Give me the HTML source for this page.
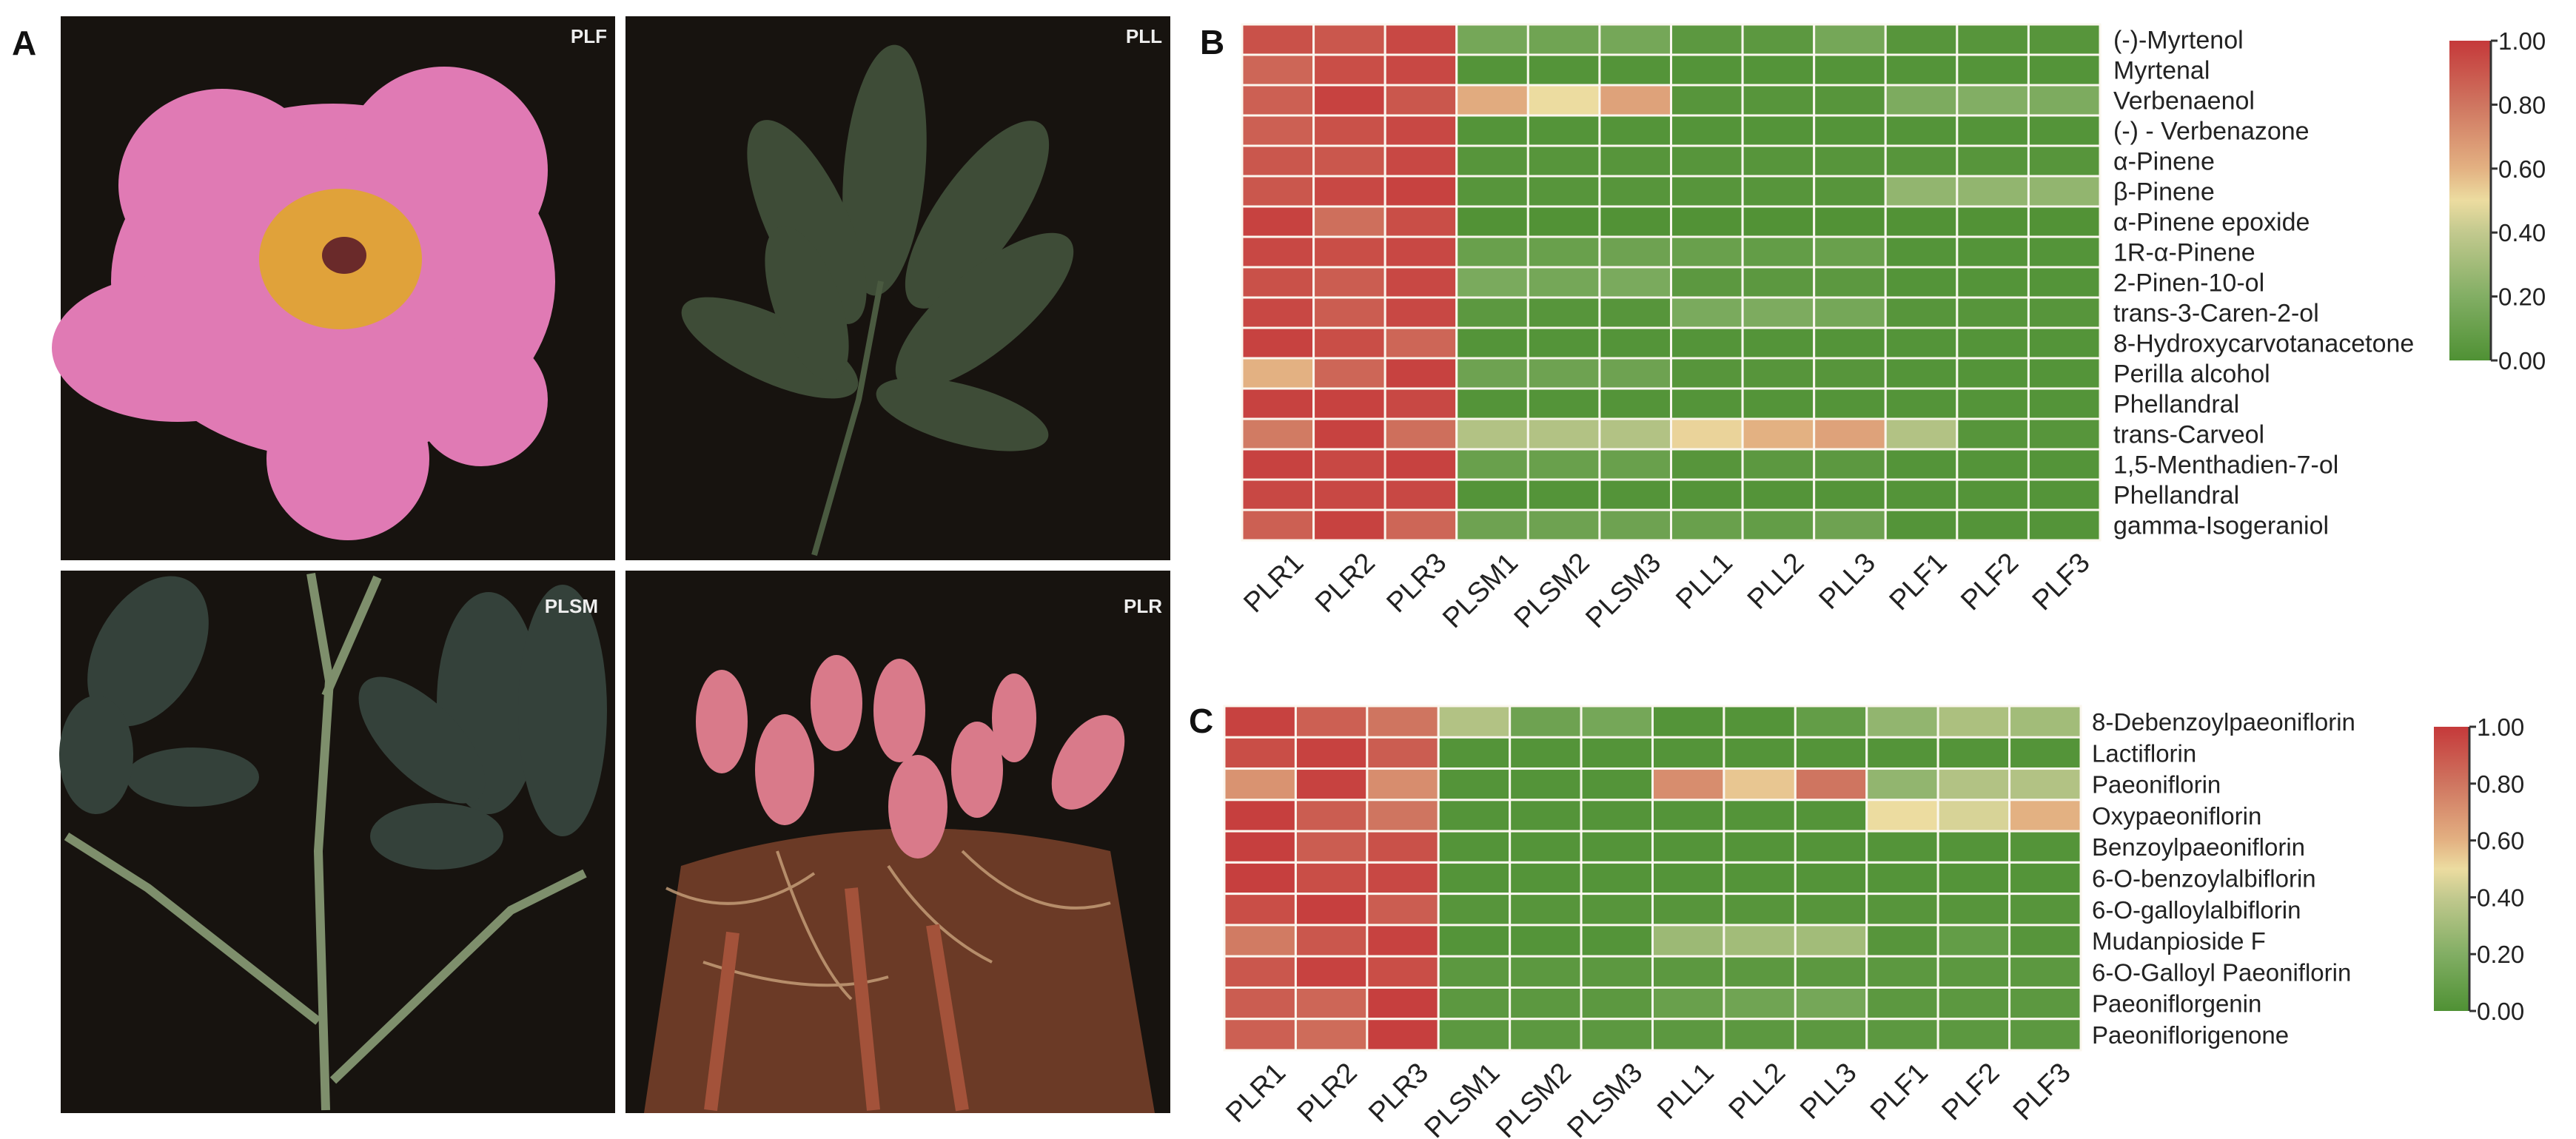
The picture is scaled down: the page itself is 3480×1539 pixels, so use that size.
<!DOCTYPE html>
<html><head><meta charset="utf-8">
<style>
html,body{margin:0;padding:0;background:#fff;}
svg{display:block;font-family:"Liberation Sans",Arial,sans-serif;}
</style></head>
<body>
<svg id="fig" width="3480" height="1539" viewBox="0 0 3480 1539" xmlns="http://www.w3.org/2000/svg">
<defs>
<linearGradient id="cbar" x1="0" y1="1" x2="0" y2="0">
<stop offset="0" stop-color="#4f9134"/>
<stop offset="0.2" stop-color="#82ae64"/>
<stop offset="0.4" stop-color="#c2c98e"/>
<stop offset="0.5" stop-color="#ecdca0"/>
<stop offset="0.6" stop-color="#e3b182"/>
<stop offset="0.8" stop-color="#cf7560"/>
<stop offset="1" stop-color="#c5393a"/>
</linearGradient>
</defs>

<!-- Panel A photos -->
<g>
<text x="16" y="74" font-size="46" font-weight="bold" fill="#111">A</text>
<g>
<rect x="82" y="22" width="749" height="735" fill="#17130f"/>
<g fill="#e07ab4">
<ellipse cx="450" cy="380" rx="300" ry="240"/>
<ellipse cx="300" cy="250" rx="140" ry="130"/>
<ellipse cx="600" cy="230" rx="140" ry="140"/>
<ellipse cx="240" cy="470" rx="170" ry="100"/>
<ellipse cx="470" cy="620" rx="110" ry="110"/>
<ellipse cx="650" cy="540" rx="90" ry="90"/>
</g>
<ellipse cx="460" cy="350" rx="110" ry="95" fill="#e0a23a"/>
<ellipse cx="465" cy="345" rx="30" ry="25" fill="#6a2a2a"/>
<text x="820" y="58" font-size="26" font-weight="bold" fill="#eee" text-anchor="end">PLF</text>
</g>
<g>
<rect x="845" y="22" width="736" height="735" fill="#17130f"/>
<g fill="#3e4c37">
<ellipse cx="1195" cy="230" rx="55" ry="170" transform="rotate(5 1195 230)"/>
<ellipse cx="1090" cy="300" rx="55" ry="150" transform="rotate(-25 1090 300)"/>
<ellipse cx="1320" cy="290" rx="55" ry="150" transform="rotate(35 1320 290)"/>
<ellipse cx="1330" cy="420" rx="55" ry="150" transform="rotate(50 1330 420)"/>
<ellipse cx="1040" cy="470" rx="45" ry="130" transform="rotate(-65 1040 470)"/>
<ellipse cx="1300" cy="560" rx="40" ry="120" transform="rotate(-75 1300 560)"/>
<ellipse cx="1090" cy="410" rx="45" ry="110" transform="rotate(-20 1090 410)"/>
</g>
<path d="M1100 750 L1160 540 L1190 380" stroke="#4a5a40" stroke-width="8" fill="none"/>
<text x="1570" y="58" font-size="26" font-weight="bold" fill="#eee" text-anchor="end">PLL</text>
</g>
<g>
<rect x="82" y="771" width="749" height="733" fill="#17130f"/>
<g stroke="#7e8f6c" stroke-width="12" fill="none">
<path d="M440 1500 L430 1150 L445 920 L420 775"/>
<path d="M430 1380 L200 1200 L90 1130"/>
<path d="M450 1460 L690 1230 L790 1180"/>
<path d="M440 940 L510 780"/>
</g>
<g fill="#34413a">
<ellipse cx="660" cy="950" rx="70" ry="150"/>
<ellipse cx="570" cy="1000" rx="50" ry="110" transform="rotate(-45 570 1000)"/>
<ellipse cx="590" cy="1130" rx="90" ry="45"/>
<ellipse cx="760" cy="960" rx="60" ry="170"/>
<ellipse cx="200" cy="880" rx="70" ry="110" transform="rotate(30 200 880)"/>
<ellipse cx="260" cy="1050" rx="90" ry="40"/>
<ellipse cx="130" cy="1020" rx="50" ry="80"/>
</g>
<text x="808" y="828" font-size="26" font-weight="bold" fill="#eee" text-anchor="end">PLSM</text>
</g>
<g>
<rect x="845" y="771" width="736" height="733" fill="#17130f"/>
<path d="M920 1170 Q1200 1080 1500 1150 L1560 1504 L870 1504 Z" fill="#6b3a26"/>
<g fill="#d97a8a">
<ellipse cx="975" cy="975" rx="35" ry="70"/>
<ellipse cx="1060" cy="1040" rx="40" ry="75"/>
<ellipse cx="1130" cy="950" rx="35" ry="65"/>
<ellipse cx="1215" cy="960" rx="35" ry="70"/>
<ellipse cx="1240" cy="1090" rx="40" ry="70"/>
<ellipse cx="1320" cy="1040" rx="35" ry="65"/>
<ellipse cx="1370" cy="970" rx="30" ry="60"/>
<ellipse cx="1470" cy="1030" rx="40" ry="70" transform="rotate(30 1470 1030)"/>
</g>
<g stroke="#c9a27c" stroke-width="4" fill="none" opacity="0.8">
<path d="M900 1200 Q1000 1250 1100 1180"/><path d="M1050 1150 Q1100 1300 1150 1350"/>
<path d="M1200 1170 Q1260 1260 1340 1300"/><path d="M1300 1150 Q1400 1250 1500 1220"/>
<path d="M950 1300 Q1100 1350 1200 1320"/>
</g>
<g stroke="#a3523a" stroke-width="18" fill="none">
<path d="M1150 1200 L1180 1500"/><path d="M1260 1250 L1300 1500"/><path d="M990 1260 L960 1500"/>
</g>
<text x="1570" y="828" font-size="26" font-weight="bold" fill="#eee" text-anchor="end">PLR</text>
</g>
</g>

<text x="1621" y="73" font-size="46" font-weight="bold" fill="#111">B</text>
<text x="1606" y="990" font-size="46" font-weight="bold" fill="#111">C</text>
<g id="hmB"></g>
<g id="hmC"></g>
</svg>
<script>
const samples = ["PLR1","PLR2","PLR3","PLSM1","PLSM2","PLSM3","PLL1","PLL2","PLL3","PLF1","PLF2","PLF3"];
const compoundsB = ["(-)-Myrtenol","Myrtenal","Verbenaenol","(-) - Verbenazone","α-Pinene","β-Pinene","α-Pinene epoxide","1R-α-Pinene","2-Pinen-10-ol","trans-3-Caren-2-ol","8-Hydroxycarvotanacetone","Perilla alcohol","Phellandral","trans-Carveol","1,5-Menthadien-7-ol","Phellandral","gamma-Isogeraniol"];
const valuesB = [
[0.92,0.90,0.95,0.15,0.13,0.15,0.05,0.05,0.15,0.03,0.03,0.03],
[0.85,0.93,0.95,0.02,0.02,0.02,0.02,0.02,0.02,0.02,0.02,0.02],
[0.87,0.97,0.90,0.62,0.50,0.65,0.03,0.03,0.03,0.18,0.20,0.18],
[0.87,0.92,0.95,0.02,0.02,0.02,0.02,0.02,0.02,0.02,0.02,0.02],
[0.90,0.90,0.95,0.03,0.03,0.03,0.03,0.03,0.03,0.03,0.03,0.03],
[0.90,0.95,0.97,0.03,0.03,0.03,0.03,0.03,0.03,0.25,0.25,0.25],
[0.97,0.82,0.93,0.01,0.01,0.01,0.01,0.01,0.01,0.01,0.01,0.01],
[0.95,0.93,0.95,0.10,0.10,0.12,0.10,0.08,0.10,0.02,0.02,0.02],
[0.92,0.88,0.95,0.17,0.15,0.17,0.05,0.05,0.05,0.02,0.02,0.02],
[0.95,0.88,0.95,0.05,0.03,0.03,0.17,0.18,0.15,0.03,0.03,0.03],
[0.97,0.93,0.85,0.02,0.02,0.02,0.02,0.02,0.02,0.02,0.02,0.02],
[0.60,0.85,0.97,0.12,0.12,0.12,0.03,0.03,0.03,0.02,0.02,0.02],
[0.97,0.97,0.95,0.02,0.02,0.02,0.02,0.02,0.02,0.02,0.02,0.02],
[0.78,0.97,0.82,0.35,0.35,0.35,0.52,0.60,0.65,0.35,0.03,0.03],
[0.97,0.95,0.97,0.10,0.10,0.10,0.03,0.05,0.05,0.02,0.02,0.02],
[0.95,0.95,0.95,0.02,0.02,0.02,0.02,0.02,0.02,0.02,0.02,0.02],
[0.87,0.97,0.85,0.12,0.12,0.12,0.10,0.08,0.12,0.02,0.02,0.02]
];
const compoundsC = ["8-Debenzoylpaeoniflorin","Lactiflorin","Paeoniflorin","Oxypaeoniflorin","Benzoylpaeoniflorin","6-O-benzoylalbiflorin","6-O-galloylalbiflorin","Mudanpioside F","6-O-Galloyl Paeoniflorin","Paeoniflorgenin","Paeoniflorigenone"];
const valuesC = [
[0.97,0.87,0.80,0.35,0.12,0.15,0.02,0.02,0.08,0.25,0.33,0.30],
[0.93,0.97,0.88,0.02,0.02,0.02,0.02,0.02,0.02,0.02,0.02,0.02],
[0.70,0.97,0.72,0.02,0.02,0.02,0.72,0.55,0.80,0.25,0.35,0.35],
[0.98,0.88,0.80,0.02,0.02,0.02,0.02,0.02,0.02,0.50,0.45,0.60],
[0.98,0.88,0.92,0.02,0.02,0.02,0.02,0.02,0.02,0.02,0.02,0.02],
[0.98,0.93,0.95,0.02,0.02,0.02,0.02,0.02,0.02,0.02,0.02,0.02],
[0.93,0.98,0.88,0.03,0.03,0.03,0.03,0.03,0.03,0.03,0.03,0.03],
[0.78,0.90,0.97,0.02,0.02,0.02,0.28,0.30,0.30,0.03,0.08,0.03],
[0.90,0.97,0.93,0.05,0.05,0.05,0.05,0.05,0.05,0.05,0.05,0.05],
[0.88,0.85,0.98,0.05,0.05,0.05,0.10,0.13,0.15,0.05,0.05,0.05],
[0.87,0.83,0.98,0.05,0.05,0.05,0.05,0.05,0.05,0.05,0.05,0.05]
];
const colorTicks = ["0.00","0.20","0.40","0.60","0.80","1.00"];

const stops = [[0,[79,145,52]],[0.2,[130,174,100]],[0.4,[194,201,142]],[0.5,[236,220,160]],[0.6,[227,177,130]],[0.8,[207,117,96]],[1,[197,57,58]]];
function color(v){
  v=Math.max(0,Math.min(1,v));
  for(let i=1;i<stops.length;i++){
    if(v<=stops[i][0]){
      const a=stops[i-1],b=stops[i],t=(v-a[0])/(b[0]-a[0]);
      const c=a[1].map((x,k)=>Math.round(x+(b[1][k]-x)*t));
      return `rgb(${c[0]},${c[1]},${c[2]})`;
    }
  }
  return "rgb(197,57,58)";
}
const NS="http://www.w3.org/2000/svg";
function mk(tag,attrs,parent){const e=document.createElementNS(NS,tag);for(const k in attrs)e.setAttribute(k,attrs[k]);parent.appendChild(e);return e;}

function heatmap(g,opt,rows,vals){
  const nC=samples.length,nR=rows.length;
  const cw=(opt.x1-opt.x0)/nC, rh=(opt.y1-opt.y0)/nR;
  const xS=i=>opt.x0+i*cw, yS=j=>opt.y0+j*rh;
  vals.forEach((row,j)=>row.forEach((v,i)=>{
    const r=mk("rect",{x:xS(i),y:yS(j),width:cw,height:rh,fill:color(v),stroke:"#fbf7ef","stroke-width":3},g);
    
    
  }));
  rows.forEach((name,j)=>{
    const t=mk("text",{x:opt.lx,y:yS(j)+rh/2+12,"font-size":opt.fs,fill:"#222"},g);
    t.textContent=name;
    
    
  });
  samples.forEach((s,i)=>{
    const cx=xS(i)+cw/2+18, cy=opt.y1+14;
    const t=mk("text",{x:cx,y:cy,"font-size":38,fill:"#222","text-anchor":"end","dominant-baseline":"hanging",transform:`rotate(-45 ${cx} ${cy})`},g);
    t.textContent=s;
    
    
  });
  // colorbar
  const cb=mk("rect",{x:opt.cbx,y:opt.cby0,width:opt.cbw,height:opt.cby1-opt.cby0,fill:"url(#cbar)"},g);
  
  
  const ax=opt.cbx+opt.cbw;
  mk("line",{x1:ax,y1:opt.cby0,x2:ax,y2:opt.cby1,stroke:"#333","stroke-width":3},g);
  colorTicks.forEach(tk=>{
    const y=opt.cby1-(opt.cby1-opt.cby0)*parseFloat(tk);
    mk("line",{x1:ax,y1:y,x2:ax+9,y2:y,stroke:"#333","stroke-width":3},g);
    const t=mk("text",{x:ax+10,y:y+12,"font-size":opt.tfs,fill:"#222"},g);
    t.textContent=tk;
    
    
  });
}
heatmap(document.getElementById("hmB"),{x0:1678,x1:2837,y0:33,y1:730,lx:2855,fs:34,cbx:3309,cbw:56,cby0:55,cby1:487,tfs:33},compoundsB,valuesB);
heatmap(document.getElementById("hmC"),{x0:1654,x1:2811,y0:954,y1:1419,lx:2826,fs:33,cbx:3288,cbw:48,cby0:982,cby1:1366,tfs:33},compoundsC,valuesC);
</script>
</body></html>
